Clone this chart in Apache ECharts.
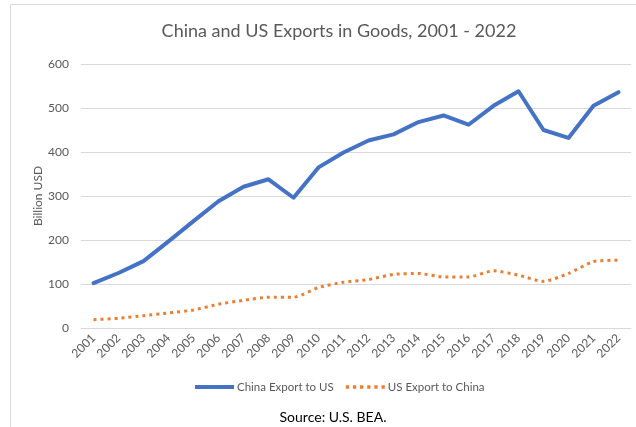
<!DOCTYPE html>
<html><head><meta charset="utf-8">
<script src="https://cdn.jsdelivr.net/npm/echarts@6/dist/echarts.min.js"></script>
<style>html,body{margin:0;padding:0;background:#fff}#c{width:636px;height:427px}</style>
</head><body><div id="c"></div>
<script>
var years = ['2001','2002','2003','2004','2005','2006','2007','2008','2009','2010','2011','2012','2013','2014','2015','2016','2017','2018','2019','2020','2021','2022'];
var chinaToUS = [102, 125, 152, 197, 243, 288, 321, 338, 296, 365, 399, 426, 440, 468, 483, 462, 505, 538, 450, 432, 505, 536];
var usToChina = [19, 22, 28, 34, 41, 54, 63, 70, 70, 92, 104, 110, 122, 124, 116, 116, 130, 120, 106, 124, 151, 154];
var yTicks = [0, 100, 200, 300, 400, 500, 600];
var FONT = 'Lato';
var chart = echarts.init(document.getElementById('c'));
chart.setOption({
  animation: false,
  textStyle: {fontFamily: FONT},
  title: [{
    text: 'China and US Exports in Goods, 2001 - 2022',
    left: 334, top: 17, textAlign: 'center',
    textStyle: {fontFamily: FONT, fontSize: 18, fontWeight: 'normal', color: '#595959'}
  }, {
    text: 'Source: U.S. BEA.',
    left: 328, top: 405, textAlign: 'center',
    textStyle: {fontFamily: FONT, fontSize: 14, fontWeight: 'normal', color: '#000'}
  }],
  graphic: [{type: 'rect', shape: {x: 10.5, y: 4.5, width: 640, height: 430}, style: {fill: 'none', stroke: '#d9d9d9', lineWidth: 1}, silent: true}],
  legend: {
    left: 190, top: 376, itemWidth: 39, itemHeight: 12, itemGap: 12,
    textStyle: {fontFamily: FONT, fontSize: 11.5, color: '#595959', padding: [0, 0, 0, -2]},
    data: [
      {name: 'China Export to US', icon: 'path://M0,0h39v4h-39z'},
      {name: 'US Export to China', icon: 'path://M0,0h3v3h-3zM6.5,0h3v3h-3zM13,0h3v3h-3zM19.5,0h3v3h-3zM26,0h3v3h-3zM32.5,0h3v3h-3z'}
    ]
  },
  grid: {left: 81, right: 5, top: 64, bottom: 99, containLabel: false},
  xAxis: {
    type: 'category', data: years, boundaryGap: true,
    axisLine: {show: true, lineStyle: {color: '#d9d9d9', width: 1}},
    axisTick: {show: false},
    axisLabel: {rotate: 45, interval: 0, fontSize: 12, color: '#595959', fontFamily: FONT, margin: 8}
  },
  yAxis: {
    type: 'value', min: yTicks[0], max: yTicks[yTicks.length - 1], interval: 100,
    name: 'Billion USD', nameLocation: 'middle', nameGap: 37, nameRotate: 90, nameMoveOverlap: false,
    nameTextStyle: {fontSize: 12, color: '#595959', fontFamily: FONT},
    axisLine: {show: false}, axisTick: {show: false},
    axisLabel: {fontSize: 12, color: '#595959', margin: 12, fontFamily: FONT},
    splitLine: {lineStyle: {color: '#d9d9d9', width: 1}}
  },
  series: [{
    name: 'China Export to US', type: 'line', data: chinaToUS,
    symbol: 'none', color: '#4472C4',
    lineStyle: {width: 4, color: '#4472C4', join: 'round', cap: 'round'}
  }, {
    name: 'US Export to China', type: 'line', data: usToChina,
    symbol: 'none', color: '#ED7D31', smooth: 0.2,
    lineStyle: {width: 3, color: '#ED7D31', type: [3, 4]}
  }]
});
</script></body></html>
